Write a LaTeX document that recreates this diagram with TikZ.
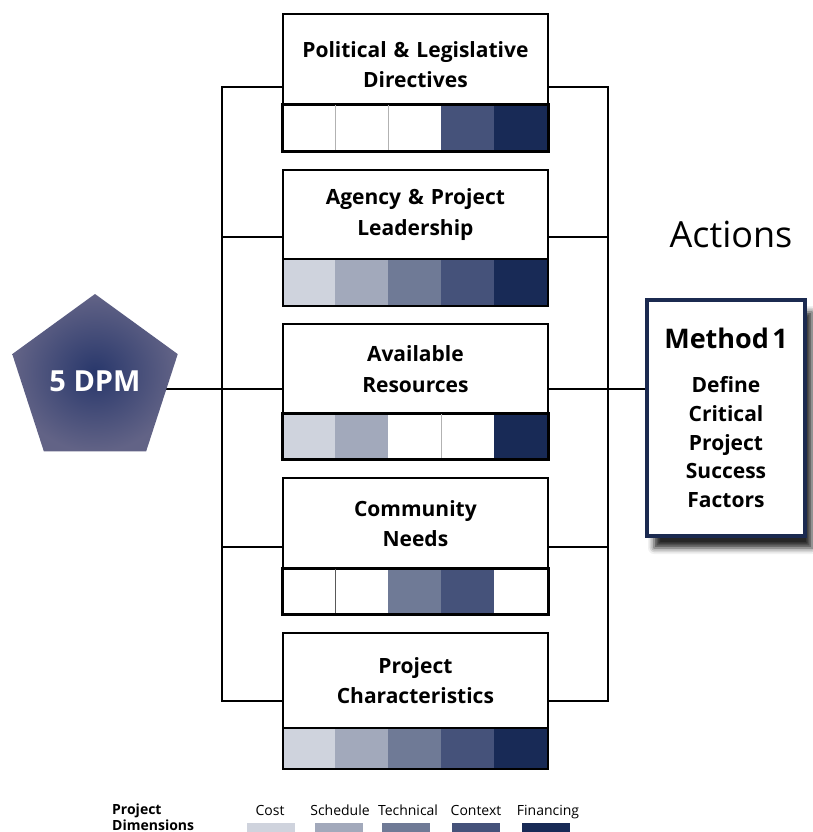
\documentclass[tikz,border=0pt]{standalone}
\usepackage{fontspec}
\setmainfont{Open Sans}
\usetikzlibrary{shapes.geometric,shadows.blur,backgrounds}
\definecolor{cA}{HTML}{CFD3DD}
\definecolor{cB}{HTML}{A2A9BB}
\definecolor{cC}{HTML}{6F7A96}
\definecolor{cD}{HTML}{45527A}
\definecolor{cE}{HTML}{182A56}
\definecolor{navy}{HTML}{1B2A50}
\definecolor{pentIn}{HTML}{28376B}
\definecolor{pentOut}{HTML}{626386}
\tikzset{
  labbox/.style={draw=black, line width=1.8pt, fill=white, minimum width=265pt,
    text width=260pt, align=center, inner sep=0pt, anchor=north west,
    font=\bfseries\fontsize{21}{30.5}\selectfont},
  cellbox/.style={anchor=north west, minimum width=53pt, inner sep=0pt, outer sep=0pt, draw=none},
  barframe/.style={draw=black, line width=1.8pt, anchor=north west, minimum width=265pt, inner sep=0pt},
  divline/.style={draw=black!30, line width=0.8pt},
  conn/.style={draw=black, line width=1.4pt, line join=miter},
  legt/.style={font=\fontsize{14}{17}\selectfont, anchor=base, inner sep=0pt},
  legb/.style={font=\bfseries\fontsize{14}{17}\selectfont, anchor=base west, inner sep=0pt},
  swatch/.style={anchor=north, minimum width=48pt, minimum height=9pt, inner sep=0pt, draw=none},
}
% id, top, bartop, bottom, label, colours
\newcommand\dpbox[6]{%
  \node[labbox, minimum height={(#3-#2)*1pt}] (lab#1) at (282,#2) {#5};
  \foreach \c [count=\k from 0] in {#6} {
    \node[cellbox, fill=\c, minimum height={(#4-#3)*1pt}] (b#1c\k) at ({282+53*\k},#3) {};
  }
  \node[barframe, minimum height={(#4-#3)*1pt}] (bar#1) at (282,#3) {};
}
\begin{document}
\begin{tikzpicture}[x=1pt,y=-1pt]
\useasboundingbox (0,0) rectangle (813,832);

\dpbox{1}{13}{104}{150}{\fontsize{21}{33}\selectfont\rule{0pt}{26pt}Political \& Legislative\par Directives}{white,white,white,cD,cE}
\dpbox{2}{169}{258}{305}{Agency \& Project\par Leadership}{cA,cB,cC,cD,cE}
\dpbox{3}{323}{413}{458}{Available\par Resources}{cA,cB,white,white,cE}
\dpbox{4}{477}{568}{613}{Community\par Needs}{white,white,cC,cD,white}
\dpbox{5}{632}{727}{768}{Project\par Characteristics}{cA,cB,cC,cD,cE}

% dividers between white cells
\draw[divline] (b1c0.north east) -- (b1c0.south east);
\draw[divline] (b1c1.north east) -- (b1c1.south east);
\draw[divline] (b3c2.north east) -- (b3c2.south east);
\draw[divline, draw=black!65] (b4c0.north east) -- (b4c0.south east);
% redraw frames over dividers
\foreach \i in {1,3,4}{
  \draw[line width=1.8pt] (bar\i.north west) rectangle (bar\i.south east);
}

% pentagon
\node[regular polygon, regular polygon sides=5, minimum size=174pt, inner sep=0pt,
  shading=radial, inner color=pentIn, outer color=pentOut, text=white,
  font=\bfseries\fontsize{29}{29}\selectfont] (pent) at (95,381) {5 DPM};

% method box
\node[draw=navy, line width=4pt, fill=white, minimum width=158pt, minimum height=236pt,
  inner sep=0pt, text width=154pt, align=center,
  blur shadow={shadow xshift=7pt, shadow yshift=-12pt, shadow blur radius=6pt, shadow opacity=85}] (meth) at (726,418)
  {\bfseries\fontsize{27}{30}\selectfont Method 1\par\vspace{15pt}
   \fontsize{21}{28.8}\selectfont Define\par Critical\par Project\par Success\par Factors\par};

\node[font=\fontsize{36}{40}\selectfont, anchor=base, inner sep=0pt] (act) at (731,247) {Actions};

% connector anchor points
\coordinate (xl) at (222,0);
\coordinate (xr) at (608,0);
\coordinate (L1) at (lab1.west |- 0,87);
\coordinate (L2) at (lab2.west |- 0,237);
\coordinate (L3) at (lab3.west |- 0,389);
\coordinate (L4) at (lab4.west |- 0,547);
\coordinate (L5) at (lab5.west |- 0,701);
\coordinate (R1) at (lab1.east |- 0,87);
\coordinate (R2) at (lab2.east |- 0,237);
\coordinate (R3) at (lab3.east |- 0,389);
\coordinate (R4) at (lab4.east |- 0,547);
\coordinate (R5) at (lab5.east |- 0,701);

\begin{pgfonlayer}{background}
  \draw[conn] (L1) -- (L1 -| xl) -- (L5 -| xl) -- (L5);
  \draw[conn] (L2) -- (L2 -| xl);
  \draw[conn] (L4) -- (L4 -| xl);
  \draw[conn] (pent.center |- L3) -- (L3);
  \draw[conn] (R1) -- (R1 -| xr) -- (R5 -| xr) -- (R5);
  \draw[conn] (R2) -- (R2 -| xr);
  \draw[conn] (R4) -- (R4 -| xr);
  \draw[conn] (R3) -- (R3 -| meth.west);
\end{pgfonlayer}

% legend
\node[legb] (pd1) at (112,814) {Project};
\node[legb] (pd2) at (112,830) {Dimensions};
\node[swatch, fill=cA] (s1) at (271,823) {};
\node[swatch, fill=cB] (s2) at (339,823) {};
\node[swatch, fill=cC] (s3) at (406,823) {};
\node[swatch, fill=cD] (s4) at (476,823) {};
\node[swatch, fill=cE] (s5) at (546,823) {};
\node[legt] (t1) at (270,815) {Cost};
\node[legt] (t2) at (340,815) {Schedule};
\node[legt] (t3) at (408,815) {Technical};
\node[legt] (t4) at (476,815) {Context};
\node[legt] (t5) at (548,815) {Financing};
\end{tikzpicture}
\end{document}
